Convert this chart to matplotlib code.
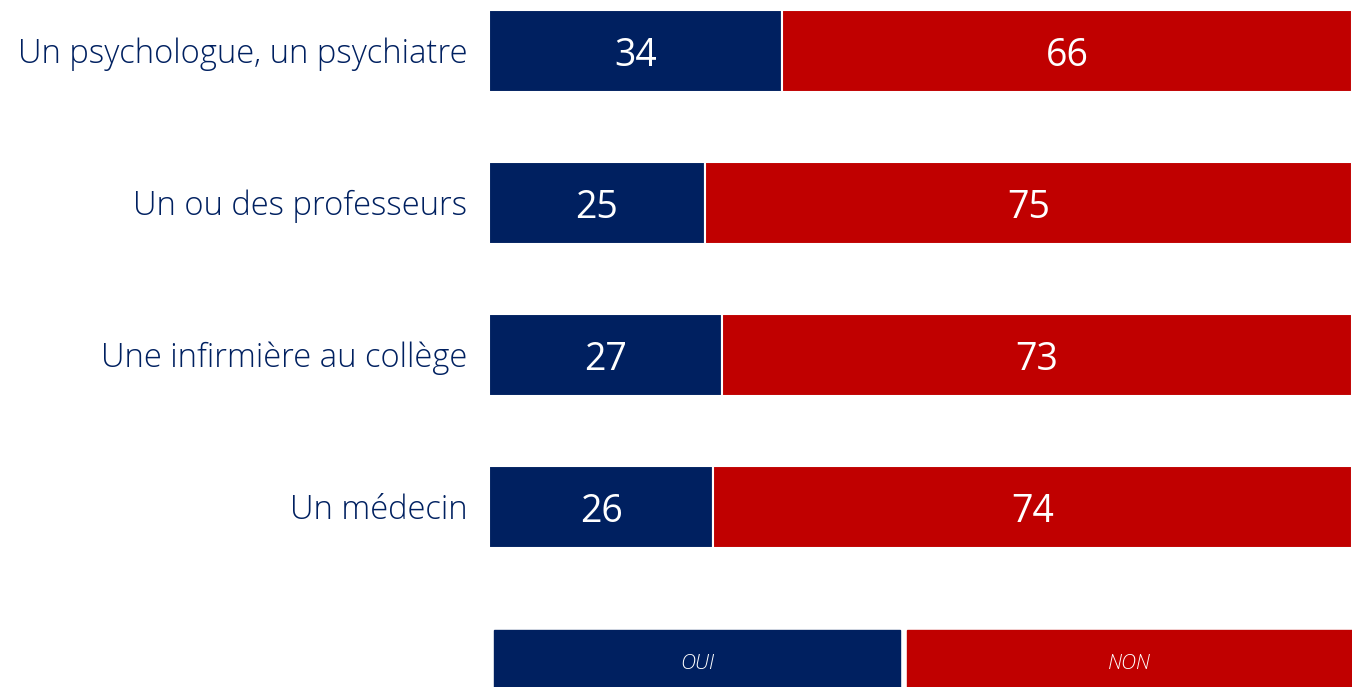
import matplotlib
matplotlib.use("Agg")
import matplotlib.pyplot as plt
from matplotlib.patches import Rectangle

plt.rcParams['font.family'] = ['Open Sans', 'DejaVu Sans']

# data
categories = ["Un psychologue, un psychiatre", "Un ou des professeurs",
              "Une infirmière au collège", "Un médecin"]
oui = [34, 25, 27, 26]
non = [66, 75, 73, 74]
series_names = ["OUI", "NON"]

navy = "#002060"
red = "#C00000"

fig = plt.figure(figsize=(13.52, 6.87), dpi=100)
ax = fig.add_axes([489 / 1352, 1 - 558 / 687, 863 / 1352, 558 / 687])

y = list(range(len(categories)))
h = 82 / 152
ax.barh(y, oui, height=h, color=navy, edgecolor="white", linewidth=1.5)
ax.barh(y, non, left=oui, height=h, color=red, edgecolor="white", linewidth=1.5)

for i in y:
    ax.text(oui[i] / 2, i + 0.03, str(oui[i]), color="white", fontsize=27,
            ha="center", va="center")
    ax.text(oui[i] + non[i] / 2, i + 0.03, str(non[i]), color="white", fontsize=27,
            ha="center", va="center")
    ax.text(-2.5, i + 0.02, categories[i], color=navy, fontsize=23.6,
            ha="right", va="center", fontweight="light")

ax.set_xlim(0, 100)
ax.set_ylim((558 - 51) / 152, -51 / 152)
ax.axis("off")

# legend boxes
boxes = [(494, 900, navy), (907, 1352, red)]
for (x0, x1, c), name in zip(boxes, series_names):
    fig.patches.append(Rectangle((x0 / 1352, 0), (x1 - x0) / 1352, 57 / 687,
                                 transform=fig.transFigure, color=c))
    fig.text((x0 + x1) / 2 / 1352, 23 / 687, name, color="white", fontsize=15,
             style="italic", ha="center", va="center", fontweight="light")

fig.savefig("out.png", dpi=100)
